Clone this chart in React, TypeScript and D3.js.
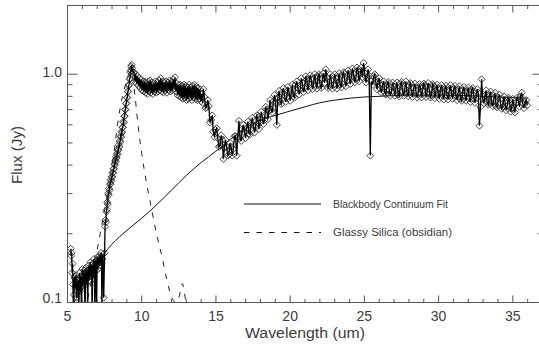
import React from "react";
import * as d3 from "d3";

// ---- Spectrum (wavelength in um, flux in Jy) ----
// short-wavelength module, nod A
const waveSL = [
  5.22, 5.28, 5.34, 5.40, 5.46, 5.52, 5.58, 5.64, 5.70, 5.76, 5.82, 5.88, 5.94, 6.00, 6.06, 6.12, 6.18, 6.24, 6.30,
  6.36, 6.42, 6.48, 6.54, 6.60, 6.66, 6.72, 6.78, 6.84, 6.90, 6.96, 7.02, 7.08, 7.14, 7.20, 7.26, 7.32, 7.38,
  7.44, 7.50, 7.53, 7.56, 7.62, 7.68, 7.74, 7.80, 7.86, 7.92, 7.98, 8.04, 8.10, 8.16, 8.22, 8.28, 8.34, 8.40,
  8.46, 8.52, 8.58, 8.64, 8.70, 8.76, 8.82, 8.88, 8.94, 9.00, 9.06, 9.12, 9.18, 9.24, 9.30, 9.36, 9.42,
  9.48, 9.54, 9.60, 9.66, 9.72, 9.78, 9.84, 9.90, 9.96, 10.02, 10.08, 10.14, 10.20, 10.26, 10.32, 10.38, 10.44,
  10.50, 10.56, 10.62, 10.68, 10.74, 10.80, 10.86, 10.92, 10.98, 11.04, 11.10, 11.16, 11.22, 11.28, 11.34, 11.40,
  11.46, 11.52, 11.58, 11.64, 11.70, 11.76, 11.82, 11.88, 11.94, 12.00, 12.06, 12.12, 12.18, 12.24, 12.30, 12.36,
  12.42, 12.48, 12.54, 12.60, 12.66, 12.72, 12.78, 12.84, 12.90, 12.96, 13.02, 13.08, 13.14, 13.20, 13.26, 13.32,
  13.38, 13.44, 13.50, 13.56, 13.62, 13.68, 13.74, 13.80, 13.86, 13.92, 13.98, 14.04, 14.10,
];
const fluxSL = [
  0.172, 0.165, 0.148, 0.085, 0.128, 0.118, 0.132, 0.112, 0.125, 0.082, 0.135, 0.12, 0.078, 0.14, 0.125, 0.138, 0.07, 0.142, 0.13,
  0.088, 0.145, 0.135, 0.15, 0.14, 0.075, 0.148, 0.155, 0.09, 0.152, 0.082, 0.158, 0.148, 0.16, 0.152, 0.165, 0.092, 0.162,
  0.105, 0.165, 0.215, 0.23, 0.25, 0.275, 0.3, 0.315, 0.33, 0.345, 0.355, 0.37, 0.385, 0.405, 0.42, 0.435, 0.45, 0.465,
  0.49, 0.51, 0.535, 0.56, 0.585, 0.62, 0.655, 0.7, 0.745, 0.79, 0.84, 0.89, 0.95, 1.02, 1.08, 1.06, 1.02,
  1.02, 0.93, 1.0, 0.91, 0.98, 0.89, 0.96, 0.87, 0.95, 0.85, 0.93, 0.84, 0.93, 0.83, 0.92, 0.82, 0.93,
  0.84, 0.94, 0.83, 0.92, 0.82, 0.91, 0.84, 0.93, 0.83, 0.92, 0.84, 0.94, 0.85, 0.96, 0.84, 0.93,
  0.83, 0.92, 0.85, 0.93, 0.83, 0.92, 0.85, 0.94, 0.84, 0.92, 0.85, 0.95, 0.86, 0.97, 0.84, 0.91,
  0.81, 0.9, 0.8, 0.9, 0.79, 0.89, 0.78, 0.9, 0.79, 0.89, 0.77, 0.88, 0.78, 0.9, 0.79, 0.88,
  0.77, 0.89, 0.79, 0.9, 0.78, 0.88, 0.77, 0.87, 0.78, 0.86, 0.76, 0.82, 0.75,
];
// short-wavelength module, nod B
const waveSL2 = [
  5.25, 5.31, 5.37, 5.43, 5.49, 5.55, 5.61, 5.67, 5.73, 5.79, 5.85, 5.91, 5.97, 6.03, 6.09, 6.15, 6.21, 6.27,
  6.33, 6.39, 6.45, 6.51, 6.57, 6.63, 6.69, 6.75, 6.81, 6.87, 6.93, 6.99, 7.05, 7.11, 7.17, 7.23, 7.29, 7.35,
  7.59, 7.65, 7.71, 7.77, 7.83, 7.89, 7.95, 8.01, 8.07, 8.13, 8.19, 8.25, 8.31, 8.37, 8.43,
  8.49, 8.55, 8.61, 8.67, 8.73, 8.79, 8.85, 8.91, 8.97, 9.03, 9.09, 9.15, 9.21, 9.27, 9.33,
];
const fluxSL2 = [
  0.16, 0.135, 0.12, 0.108, 0.13, 0.115, 0.105, 0.122, 0.118, 0.128, 0.112, 0.13, 0.125, 0.118, 0.134, 0.122, 0.13, 0.12,
  0.138, 0.128, 0.125, 0.14, 0.13, 0.145, 0.135, 0.128, 0.142, 0.15, 0.138, 0.148, 0.14, 0.155, 0.145, 0.158, 0.15, 0.155,
  0.225, 0.255, 0.27, 0.295, 0.31, 0.33, 0.34, 0.355, 0.37, 0.385, 0.4, 0.415, 0.43, 0.445, 0.465,
  0.48, 0.505, 0.53, 0.555, 0.585, 0.615, 0.655, 0.7, 0.745, 0.79, 0.84, 0.9, 0.96, 1.04, 1.1,
];
// long-wavelength module, nod A
const waveLL1 = [
  14.15, 14.30, 14.45, 14.60, 14.75, 14.90, 15.05, 15.20, 15.35, 15.50, 15.65, 15.80, 15.95, 16.10, 16.25, 16.40,
  16.55, 16.70, 16.85, 17.00, 17.15, 17.30, 17.45, 17.60, 17.75, 17.90, 18.05, 18.20, 18.35, 18.50, 18.65, 18.80,
  18.95, 19.10, 19.25, 19.40, 19.55, 19.70, 19.85, 20.00, 20.15, 20.30, 20.45, 20.60, 20.75, 20.90, 21.05, 21.20,
  21.35, 21.50, 21.65, 21.80, 21.95, 22.10, 22.25, 22.40, 22.55, 22.70, 22.85, 23.00, 23.15, 23.30, 23.45, 23.60,
  23.75, 23.90, 24.05, 24.20, 24.35, 24.50, 24.65, 24.80, 24.95, 25.10, 25.25, 25.40, 25.55, 25.70, 25.85, 26.00,
  26.15, 26.30, 26.45, 26.60, 26.75, 26.90, 27.05, 27.20, 27.35, 27.50, 27.65, 27.80, 27.95, 28.10, 28.25, 28.40,
  28.55, 28.70, 28.85, 29.00, 29.15, 29.30, 29.45, 29.60, 29.75, 29.90, 30.05, 30.20, 30.35, 30.50, 30.65, 30.80,
  30.95, 31.10, 31.25, 31.40, 31.55, 31.70, 31.85, 32.00, 32.15, 32.30, 32.45, 32.60, 32.75, 32.90, 33.05, 33.20,
  33.35, 33.50, 33.65, 33.80, 33.95, 34.10, 34.25, 34.40, 34.55, 34.70, 34.85, 35.00, 35.15, 35.30, 35.45, 35.60,
  35.75, 35.90,
];
const fluxLL1 = [
  0.86, 0.71, 0.77, 0.615, 0.66, 0.53, 0.58, 0.48, 0.54, 0.425, 0.515, 0.44, 0.5, 0.44, 0.535, 0.44,
  0.625, 0.51, 0.6, 0.525, 0.62, 0.545, 0.645, 0.555, 0.66, 0.575, 0.685, 0.605, 0.72, 0.635, 0.77, 0.68,
  0.81, 0.6, 0.845, 0.74, 0.87, 0.755, 0.88, 0.765, 0.9, 0.79, 0.93, 0.815, 0.96, 0.835, 0.98, 0.85,
  0.99, 0.86, 1.0, 0.865, 1.0, 0.87, 1.01, 1.05, 0.87, 1.0, 0.865, 1.0, 0.865, 1.01, 0.875, 1.02,
  0.885, 1.04, 0.905, 1.06, 0.92, 1.07, 0.93, 1.07, 1.12, 0.92, 1.05, 0.44, 0.9, 1.0, 0.86, 0.96,
  0.83, 0.93, 0.815, 0.925, 0.805, 0.92, 0.805, 0.92, 0.8, 0.925, 0.805, 0.93, 0.8, 0.915, 0.795, 0.91,
  0.79, 0.905, 0.79, 0.91, 0.795, 0.915, 0.79, 0.905, 0.785, 0.9, 0.78, 0.895, 0.775, 0.89, 0.775, 0.895,
  0.78, 0.89, 0.77, 0.885, 0.765, 0.88, 0.765, 0.875, 0.755, 0.87, 0.75, 0.86, 0.595, 0.95, 0.745, 0.85,
  0.735, 0.84, 0.725, 0.83, 0.715, 0.815, 0.705, 0.8, 0.695, 0.79, 0.685, 0.78, 0.68, 0.79, 0.72, 0.83,
  0.71, 0.77,
];
// long-wavelength module, nod B
const waveLL2 = [
  14.22, 14.37, 14.52, 14.67, 14.82, 14.97, 15.12, 15.27, 15.42, 15.57, 15.72, 15.87, 16.02, 16.17, 16.32, 16.47,
  16.62, 16.77, 16.92, 17.07, 17.22, 17.37, 17.52, 17.67, 17.82, 17.97, 18.12, 18.27, 18.42, 18.57, 18.72, 18.87,
  19.02, 19.17, 19.32, 19.47, 19.62, 19.77, 19.92, 20.07, 20.22, 20.37, 20.52, 20.67, 20.82, 20.97, 21.12, 21.27,
  21.42, 21.57, 21.72, 21.87, 22.02, 22.17, 22.32, 22.47, 22.62, 22.77, 22.92, 23.07, 23.22, 23.37, 23.52, 23.67,
  23.82, 23.97, 24.12, 24.27, 24.42, 24.57, 24.72, 24.87, 25.02, 25.17, 25.32, 25.47, 25.62, 25.77, 25.92, 26.07,
  26.22, 26.37, 26.52, 26.67, 26.82, 26.97, 27.12, 27.27, 27.42, 27.57, 27.72, 27.87, 28.02, 28.17, 28.32, 28.47,
  28.62, 28.77, 28.92, 29.07, 29.22, 29.37, 29.52, 29.67, 29.82, 29.97, 30.12, 30.27, 30.42, 30.57, 30.72, 30.87,
  31.02, 31.17, 31.32, 31.47, 31.62, 31.77, 31.92, 32.07, 32.22, 32.37, 32.52, 32.67, 32.82, 32.97, 33.12, 33.27,
  33.42, 33.57, 33.72, 33.87, 34.02, 34.17, 34.32, 34.47, 34.62, 34.77, 34.92, 35.07, 35.22, 35.37, 35.52, 35.67,
  35.82, 35.97,
];
const fluxLL2 = [
  0.795, 0.715, 0.725, 0.63, 0.56, 0.57, 0.525, 0.485, 0.515, 0.475, 0.48, 0.445, 0.48, 0.47, 0.535, 0.53,
  0.525, 0.575, 0.555, 0.58, 0.55, 0.61, 0.597, 0.585, 0.645, 0.615, 0.65, 0.63, 0.7, 0.69, 0.7, 0.76,
  0.745, 0.79, 0.76, 0.83, 0.807, 0.79, 0.84, 0.82, 0.8, 0.9, 0.867, 0.855, 0.915, 0.87, 0.95, 0.91,
  0.95, 0.9, 0.93, 0.975, 0.895, 0.955, 0.915, 0.97, 0.89, 0.94, 0.9, 0.96, 0.92, 0.9, 0.99, 0.95,
  0.93, 1.0, 0.97, 1.005, 0.955, 1.04, 1.0, 0.97, 1.015, 0.965, 0.985, 0.93, 0.98, 0.92, 0.93, 0.865,
  0.9, 0.835, 0.9, 0.855, 0.835, 0.885, 0.86, 0.815, 0.905, 0.84, 0.865, 0.825, 0.89, 0.83, 0.87, 0.845,
  0.82, 0.88, 0.845, 0.895, 0.825, 0.86, 0.81, 0.885, 0.848, 0.82, 0.86, 0.825, 0.865, 0.805, 0.845, 0.825,
  0.865, 0.805, 0.828, 0.785, 0.85, 0.805, 0.835, 0.785, 0.855, 0.805, 0.785, 0.83, 0.72, 0.78, 0.805, 0.755,
  0.805, 0.75, 0.78, 0.725, 0.79, 0.745, 0.72, 0.76, 0.725, 0.77, 0.71, 0.728, 0.75, 0.77, 0.8, 0.745,
  0.75, 0.73,
];

// ---- Blackbody continuum fit ----
const bbWave = [5.3, 5.6, 6.0, 6.5, 7.0, 7.5, 8, 9, 10, 11, 12, 13, 14, 15, 16, 17, 18, 19, 20, 21, 22, 23, 24, 25, 26, 28, 30, 32, 34, 36];
const bbFlux = [0.097, 0.104, 0.114, 0.13, 0.148, 0.165, 0.18, 0.207, 0.234, 0.268, 0.31, 0.36, 0.41, 0.46, 0.52, 0.58, 0.63, 0.66, 0.69, 0.72, 0.75, 0.77, 0.785, 0.795, 0.8, 0.81, 0.81, 0.805, 0.795, 0.785];

// ---- Glassy silica (obsidian) ----
const silWave = [6.2, 6.5, 6.8, 7.0, 7.2, 7.5, 7.8, 8.1, 8.4, 8.7, 9.0, 9.2, 9.35, 9.55, 9.77, 10.0, 10.3, 10.6, 11.0, 11.4, 11.7, 12.0, 12.3, 12.5, 12.65, 12.75, 12.85, 13.0];
const silFlux = [0.092, 0.115, 0.145, 0.17, 0.2, 0.255, 0.33, 0.44, 0.62, 0.8, 0.94, 1.03, 1.0, 0.8, 0.585, 0.45, 0.34, 0.27, 0.2, 0.155, 0.125, 0.106, 0.1, 0.105, 0.115, 0.121, 0.113, 0.097];

// ---- Axes ----
const xMajorTicks = [5, 10, 15, 20, 25, 30, 35];
const yMajorTicks = [0.1, 1.0];
const yTickLabels = ["0.1", "1.0"];
const legendLabels = ["Blackbody Continuum Fit", "Glassy Silica (obsidian)"];

const W = 539;
const H = 350;
const L = 67.5, R = 542.5, T = 5.5, B = 302.5;
const FONT = "'Liberation Sans', Arial, sans-serif";
const TXT = "#3c3c3c";
const AX = "#555";

export default function App() {
  const x = d3.scaleLinear().domain([5, 37]).range([L, R]);
  const y = d3.scaleLog().domain([0.1, 2]).range([B, T]);

  const waves = [...waveSL, ...waveSL2, ...waveLL1, ...waveLL2];
  const fluxes = [...fluxSL, ...fluxSL2, ...fluxLL1, ...fluxLL2];
  const order = d3.range(waves.length).sort((a, b) => waves[a] - waves[b]);
  const pts: [number, number][] = order.map((i) => [x(waves[i]), y(fluxes[i])]);
  const dataLine = d3.line()(pts) || "";
  const bbLine =
    d3.line<number>().x((d, i) => x(bbWave[i])).y((d) => y(d)).curve(d3.curveMonotoneX)(bbFlux) || "";
  const silLine =
    d3.line<number>().x((d, i) => x(silWave[i])).y((d) => y(d)).curve(d3.curveMonotoneX)(silFlux) || "";

  const xMinor = d3.range(5, 38, 1);
  const yMinor = y.ticks().filter((t) => !yMajorTicks.some((m) => Math.abs(m - t) < 1e-9));
  const diamond = "M0,-3.5L3.5,0L0,3.5L-3.5,0Z";

  return (
    <svg
      width={W}
      height={H}
      style={{ position: "absolute", left: 0, top: 0, background: "#fff" }}
      xmlns="http://www.w3.org/2000/svg"
    >
      <defs>
        <clipPath id="plotClip">
          <rect x={L} y={T} width={R - L} height={B - T} />
        </clipPath>
      </defs>
      <rect x={0} y={0} width={W} height={H} fill="#fff" />

      <g clipPath="url(#plotClip)">
        <path d={bbLine} fill="none" stroke="#111" strokeWidth={1} />
        <path d={silLine} fill="none" stroke="#222" strokeWidth={1} strokeDasharray="5.5,7" />
        <g>
          {pts.map((p, i) => (
            <path key={i} d={diamond} transform={`translate(${p[0]},${p[1]})`} fill="none" stroke="#333" strokeWidth={0.9} />
          ))}
        </g>
        <path d={dataLine} fill="none" stroke="#000" strokeWidth={1.3} />
      </g>

      {/* frame */}
      <g stroke={AX} strokeWidth={1} fill="none">
        <line x1={L} y1={T} x2={R} y2={T} />
        <line x1={L} y1={B} x2={R} y2={B} />
        <line x1={L} y1={T} x2={L} y2={B} />
        <line x1={R} y1={T} x2={R} y2={B} />
        {xMinor.map((t) => {
          const major = xMajorTicks.includes(t);
          const len = major ? 7 : 3.5;
          return (
            <g key={"xt" + t}>
              <line x1={x(t)} x2={x(t)} y1={B} y2={B - len} />
              <line x1={x(t)} x2={x(t)} y1={T} y2={T + len} />
            </g>
          );
        })}
        {yMajorTicks.map((t) => (
          <g key={"ym" + t}>
            <line x1={L} x2={L + 10} y1={y(t)} y2={y(t)} />
            <line x1={R} x2={R - 10} y1={y(t)} y2={y(t)} />
          </g>
        ))}
        {yMinor.map((t) => (
          <g key={"yn" + t}>
            <line x1={L} x2={L + 5} y1={y(t)} y2={y(t)} />
            <line x1={R} x2={R - 5} y1={y(t)} y2={y(t)} />
          </g>
        ))}
      </g>

      {/* tick labels */}
      <g fontFamily={FONT} fontSize={14} fill={TXT}>
        {xMajorTicks.map((t) => (
          <text key={"xl" + t} x={x(t)} y={321} textAnchor="middle">
            {t}
          </text>
        ))}
        {yMajorTicks.map((t, i) => (
          <text key={"yl" + t} x={62} y={y(t) + (i === 0 ? 0 : 3)} textAnchor="end">
            {yTickLabels[i]}
          </text>
        ))}
        <text x={305} y={338} textAnchor="middle" textLength={120} lengthAdjust="spacingAndGlyphs">
          Wavelength (um)
        </text>
        <text
          transform="translate(22,155) rotate(-90)"
          textAnchor="middle"
          textLength={58}
          lengthAdjust="spacingAndGlyphs"
        >
          Flux (Jy)
        </text>
      </g>

      {/* legend */}
      <g>
        <line x1={244} x2={321} y1={204} y2={204} stroke="#111" strokeWidth={1} />
        <line x1={244} x2={321} y1={232.5} y2={232.5} stroke="#111" strokeWidth={1} strokeDasharray="5.5,7" />
        <g fontFamily={FONT} fontSize={10} fill={TXT}>
          <text x={333} y={207.5} textLength={115} lengthAdjust="spacingAndGlyphs">
            {legendLabels[0]}
          </text>
          <text x={333} y={236} textLength={119} lengthAdjust="spacingAndGlyphs">
            {legendLabels[1]}
          </text>
        </g>
      </g>
    </svg>
  );
}
